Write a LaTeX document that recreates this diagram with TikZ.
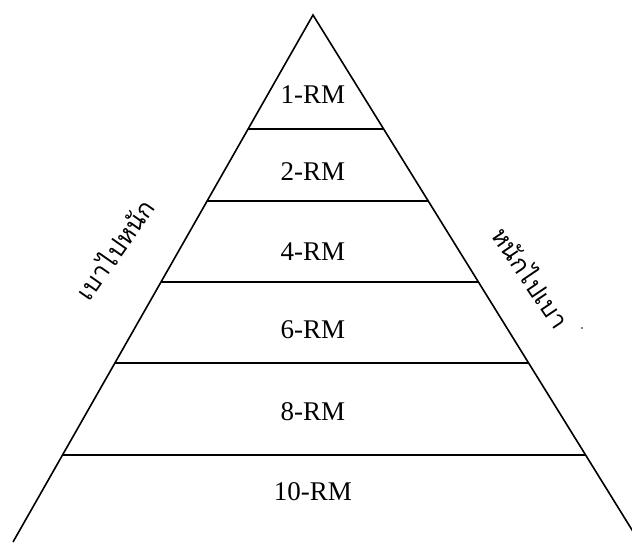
\documentclass[tikz,border=0pt]{standalone}
\usepackage{fontspec}
\setmainfont{Liberation Serif}
\newfontfamily\thaifont[Script=Thai]{Loma}
\usetikzlibrary{calc}

\begin{document}
\begin{tikzpicture}[x=1pt, y=1pt, every node/.style={font=\fontsize{27}{30}\selectfont}]
  \useasboundingbox (0,0) rectangle (632,542);
  \clip (0,0) rectangle (632,542);

  % Pyramid corners
  \coordinate (apex) at (313,527);
  \coordinate (bl) at (13,0);
  \coordinate (br) at (639.5,0);

  % Sides
  \draw[line width=1.6pt] (bl) -- (apex) -- (br);

  % Levels
  \draw[line width=1.2pt] ($(apex)!0.2163!(bl)$) -- ($(apex)!0.2163!(br)$);
  \draw[line width=1.2pt] ($(apex)!0.3529!(bl)$) -- ($(apex)!0.3529!(br)$);
  \draw[line width=1.2pt] ($(apex)!0.5066!(bl)$) -- ($(apex)!0.5066!(br)$);
  \draw[line width=1.2pt] ($(apex)!0.6603!(bl)$) -- ($(apex)!0.6603!(br)$);
  \draw[line width=1.2pt] ($(apex)!0.8349!(bl)$) -- ($(apex)!0.8349!(br)$);

  % Level labels
  \node (rm1) at (313,447) {1-RM};
  \node (rm2) at (313,370) {2-RM};
  \node (rm4) at (313,290) {4-RM};
  \node (rm6) at (313,212) {6-RM};
  \node (rm8) at (313,130) {8-RM};
  \node (rm10) at (313,50) {10-RM};

  % Side labels
  \node[rotate=55, font=\fontsize{25}{28}\selectfont] (light) at (114,293) {\thaifont เบาไปหนัก};
  \node[rotate=-56, font=\fontsize{25}{28}\selectfont] (heavy) at (532,265) {\thaifont หนักไปเบา};
  \fill (582,214) circle (0.8);
\end{tikzpicture}
\end{document}
